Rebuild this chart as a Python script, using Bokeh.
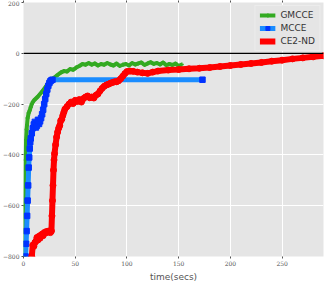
from bokeh.plotting import figure
from bokeh.models import LinearAxis, FixedTicker, Span, Range1d, Legend, LegendItem, CustomJSTickFormatter
from bokeh.embed import file_html
from bokeh.resources import INLINE

# ---- data ----
green_t = [1.0, 1.5, 2, 2.5, 3, 4, 5, 6, 7, 8, 9, 10, 12, 14, 16, 18, 20, 22, 24, 26, 28, 30,
           33, 36, 39, 42, 45, 48, 51, 54, 57, 60, 63, 66, 69, 72, 75, 78, 81, 84, 87, 90,
           93, 96, 99, 102, 105, 108, 111, 114, 117, 120, 123, 126, 129, 132, 135, 138, 141,
           144, 147, 150, 153]
green_v = [-800, -600, -420, -340, -300, -255, -235, -225, -212, -200, -192, -186, -178, -170,
           -160, -150, -140, -128, -116, -110, -100, -95, -85, -76, -70, -72, -62, -65, -56,
           -50, -42, -45, -38, -45, -40, -48, -42, -45, -38, -44, -48, -40, -50, -45, -42,
           -48, -38, -44, -40, -36, -46, -40, -35, -42, -38, -44, -36, -47, -42, -46, -40,
           -50, -44]

blue_t = [2, 2.5, 3, 3.5, 4, 4.5, 5, 5.5, 6, 6.5, 7, 8, 9, 10, 11, 12, 13, 14, 15, 16, 17,
          18, 19, 20, 21, 22, 23, 24, 25, 26, 27, 28, 173]
blue_v = [-800, -750, -700, -640, -580, -520, -450, -410, -375, -350, -335, -315, -295, -280,
          -270, -292, -285, -262, -278, -268, -255, -240, -222, -200, -180, -160, -143, -128,
          -117, -110, -106, -104, -104]

red_t = [8, 9, 10, 11, 12, 13, 14, 15, 16, 17, 18, 19, 20, 21, 22, 23, 24, 25, 26, 27, 27.5,
         28, 28.5, 29, 29.5, 30, 31, 32, 33, 34, 35, 36, 37, 38, 39, 40, 42, 44, 46, 48, 50,
         52, 54, 56, 58, 60, 62, 64, 66, 68, 70, 72, 74, 76, 78, 80, 82, 84, 86, 88, 90, 92,
         94, 96, 98, 100, 103, 106, 110, 115, 120, 125, 130, 140, 150, 160, 170, 180, 190,
         200, 210, 220, 230, 240, 250, 260, 270, 280, 290]
red_v = [-800, -755, -760, -745, -740, -725, -735, -720, -728, -715, -712, -718, -706, -708,
         -702, -705, -700, -703, -706, -700, -640, -580, -520, -460, -420, -395, -360, -330,
         -310, -295, -285, -265, -260, -245, -232, -220, -210, -200, -192, -198, -185, -190,
         -182, -192, -178, -172, -168, -175, -172, -176, -165, -160, -148, -138, -130, -125,
         -122, -118, -115, -112, -112, -108, -100, -90, -80, -72, -70, -71, -74, -77, -79,
         -74, -70, -66, -64, -61, -59, -56, -52, -48, -44, -40, -36, -31, -27, -22, -18, -14,
         -10]

x_ticks = [0, 50, 100, 150, 200, 250]
y_ticks = [-800, -600, -400, -200, 0, 200]
y_tick_labels = ["\u2212800", "\u2212600", "\u2212400", "\u2212200", "0", "200"]
series_names = ["GMCCE", "MCCE", "CE2-ND"]
x_label = "time(secs)"

# ---- figure ----
p = figure(width=327, height=284, output_backend="svg", toolbar_location=None,
           x_range=Range1d(0, 290), y_range=Range1d(-800, 200),
           min_border_left=0, min_border_right=4, min_border_top=2, min_border_bottom=2)
p.background_fill_color = "#e5e5e5"
p.border_fill_color = "white"
p.outline_line_color = None

tick_font = "DejaVu Serif"
for ax in [p.xaxis[0], p.yaxis[0]]:
    ax.axis_line_color = None
    ax.major_tick_line_color = "#555555"
    ax.minor_tick_line_color = None
    ax.major_tick_out = 2
    ax.major_tick_in = 0
    ax.major_label_text_font = tick_font
    ax.major_label_text_font_size = "6px"
    ax.major_label_text_color = "#555555"
    ax.major_label_standoff = 2

p.xaxis[0].ticker = FixedTicker(ticks=x_ticks)
p.yaxis[0].ticker = FixedTicker(ticks=y_ticks)
p.yaxis[0].major_label_overrides = {t: l for t, l in zip(y_ticks, y_tick_labels)}
p.xaxis[0].axis_label = x_label
p.xaxis[0].axis_label_text_font = "DejaVu Sans"
p.xaxis[0].axis_label_text_font_size = "9px"
p.xaxis[0].axis_label_text_font_style = "normal"
p.xaxis[0].axis_label_text_color = "#555555"
p.xaxis[0].axis_label_standoff = 3

blank = CustomJSTickFormatter(code="return '';")
top = LinearAxis(ticker=FixedTicker(ticks=x_ticks), formatter=blank)
top.axis_line_color = None
top.major_tick_line_color = "#555555"
top.minor_tick_line_color = None
top.major_tick_out = 2
top.major_tick_in = 0
top.major_label_standoff = 0
p.add_layout(top, "above")

p.xgrid.ticker = FixedTicker(ticks=x_ticks)
p.ygrid.ticker = FixedTicker(ticks=y_ticks)
p.grid.grid_line_color = "white"
p.grid.grid_line_width = 1

p.add_layout(Span(location=0, dimension="width", line_color="black", line_width=1.2))

g_l = p.line(green_t, green_v, line_color="#33aa22", line_width=4)
g_s = p.scatter(green_t, green_v, marker="cross", size=4, line_color="#33aa22", line_width=1.5)

b_l = p.line(blue_t, blue_v, line_color="#1a8cff", line_width=5)
b_s = p.scatter(blue_t, blue_v, marker="square", size=5.5, fill_color="#0033ff", line_color="#0033ff")

r_l = p.line(red_t, red_v, line_color="#ff0000", line_width=6)
r_s = p.scatter(red_t, red_v, marker="circle", size=6, fill_color="#ff0000", line_color="#ff0000")

legend = Legend(items=[
    LegendItem(label=series_names[0], renderers=[g_l, g_s]),
    LegendItem(label=series_names[1], renderers=[b_l, b_s]),
    LegendItem(label=series_names[2], renderers=[r_l, r_s]),
], location="top_right")
legend.background_fill_color = "#e5e5e5"
legend.background_fill_alpha = 1
legend.border_line_color = "#f4f4f4"
legend.border_line_width = 1
legend.label_text_font = "DejaVu Sans"
legend.label_text_font_size = "9px"
legend.label_text_color = "#333333"
legend.glyph_width = 16
legend.glyph_height = 10
legend.label_height = 10
legend.spacing = 3
legend.padding = 4
legend.margin = 3
legend.label_standoff = 5
p.add_layout(legend)

open("out.html", "w").write(file_html(p, INLINE))
